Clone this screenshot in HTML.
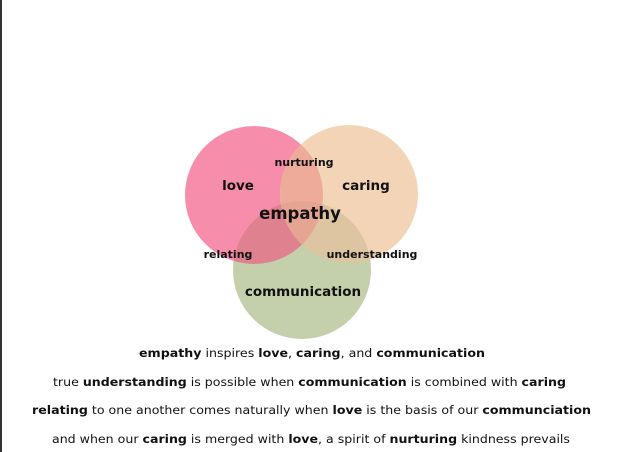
<!DOCTYPE html>
<html><head><meta charset="utf-8"><style>
html,body{margin:0;padding:0;background:#fff;}
body{width:618px;height:452px;overflow:hidden;position:relative;}
svg{position:absolute;left:0;top:0;}
text{font-family:"DejaVu Sans","Liberation Sans",sans-serif;fill:#111;}
</style></head><body>
<svg width="618" height="452" viewBox="0 0 618 452">
<defs>
<clipPath id="cl"><circle cx="254" cy="195" r="69"/></clipPath>
<clipPath id="cc"><circle cx="349" cy="194" r="69"/></clipPath>
<clipPath id="cm"><circle cx="302" cy="270" r="69"/></clipPath>
</defs>
<rect x="0" y="0" width="2" height="452" fill="#333"/>
<circle cx="254" cy="195" r="69" fill="#f68dab"/>
<circle cx="349" cy="194" r="69" fill="#f3d4b6"/>
<circle cx="302" cy="270" r="69" fill="#c4cfab"/>
<g clip-path="url(#cl)"><circle cx="349" cy="194" r="69" fill="#eeab99"/><circle cx="302" cy="270" r="69" fill="#e0818f"/></g>
<g clip-path="url(#cc)"><circle cx="302" cy="270" r="69" fill="#dcc5a0"/></g>
<g clip-path="url(#cl)"><g clip-path="url(#cc)"><circle cx="302" cy="270" r="69" fill="#e6a493"/></g></g>
<g font-weight="bold">
<text x="238" y="190" font-size="13.5" text-anchor="middle">love</text>
<text x="366" y="190" font-size="13.5" text-anchor="middle">caring</text>
<text x="304" y="166" font-size="11" text-anchor="middle">nurturing</text>
<text x="300" y="219" font-size="16.5" text-anchor="middle">empathy</text>
<text x="228" y="258" font-size="11" text-anchor="middle">relating</text>
<text x="372" y="258" font-size="11" text-anchor="middle">understanding</text>
<text x="303" y="296" font-size="13.5" text-anchor="middle">communication</text>
</g>
<g font-size="11.8" fill="#222">
<text x="139" y="357" textLength="346" lengthAdjust="spacingAndGlyphs"><tspan font-weight="bold">empathy</tspan> inspires <tspan font-weight="bold">love</tspan>, <tspan font-weight="bold">caring</tspan>, and <tspan font-weight="bold">communication</tspan></text>
<text x="53" y="386" textLength="513" lengthAdjust="spacingAndGlyphs">true <tspan font-weight="bold">understanding</tspan> is possible when <tspan font-weight="bold">communication</tspan> is combined with <tspan font-weight="bold">caring</tspan></text>
<text x="32" y="414" textLength="559" lengthAdjust="spacingAndGlyphs"><tspan font-weight="bold">relating</tspan> to one another comes naturally when <tspan font-weight="bold">love</tspan> is the basis of our <tspan font-weight="bold">communciation</tspan></text>
<text x="52" y="443" textLength="518" lengthAdjust="spacingAndGlyphs">and when our <tspan font-weight="bold">caring</tspan> is merged with <tspan font-weight="bold">love</tspan>, a spirit of <tspan font-weight="bold">nurturing</tspan> kindness prevails</text>
</g>
</svg>
</body></html>
